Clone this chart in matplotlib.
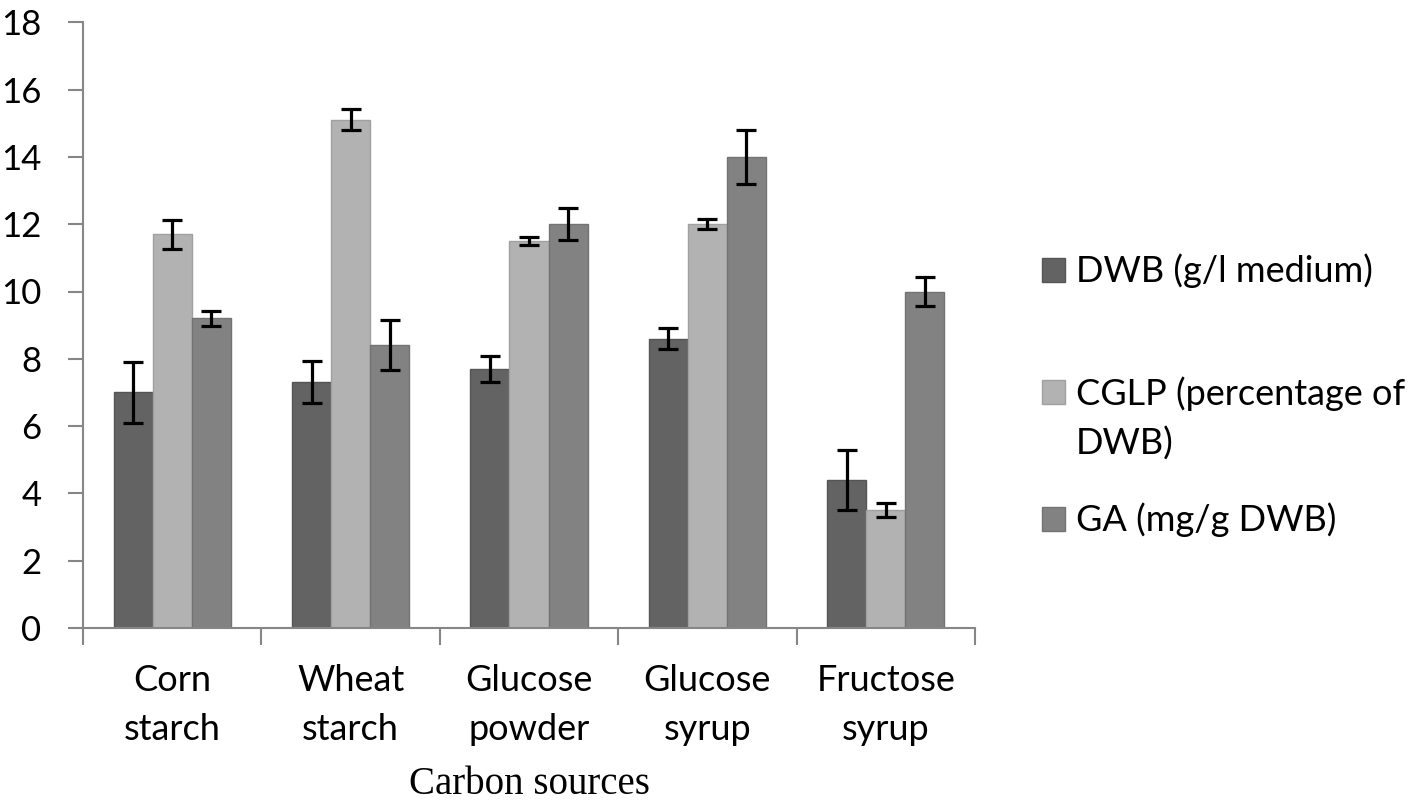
import matplotlib
matplotlib.use("Agg")
import matplotlib.pyplot as plt
from matplotlib.patches import Patch
import numpy as np

categories = ["Corn\nstarch", "Wheat\nstarch", "Glucose\npowder", "Glucose\nsyrup", "Fructose\nsyrup"]
series_names = ["DWB (g/l medium)", "CGLP (percentage of\nDWB)", "GA (mg/g DWB)"]
dwb = [7.0, 7.3, 7.7, 8.6, 4.4]
dwb_err = [0.9, 0.62, 0.39, 0.32, 0.89]
cglp = [11.7, 15.1, 11.5, 12.0, 3.5]
cglp_err = [0.43, 0.31, 0.12, 0.14, 0.21]
ga = [9.2, 8.4, 12.0, 14.0, 10.0]
ga_err = [0.22, 0.74, 0.47, 0.8, 0.42]
yticks = [0, 2, 4, 6, 8, 10, 12, 14, 16, 18]

colors = ["#636363", "#b2b2b2", "#828282"]
edge = ["#555555", "#a0a0a0", "#737373"]

plt.rcParams['font.family'] = ['Lato', 'DejaVu Sans']

fig = plt.figure(figsize=(14.18, 8.09), dpi=100)
ax = fig.add_axes([83/1418, 1 - 628/809, (975-83)/1418, (628-22.3)/809])

x = np.arange(len(categories))
w = 0.219
handles = []
for i, (vals, errs) in enumerate([(dwb, dwb_err), (cglp, cglp_err), (ga, ga_err)]):
    b = ax.bar(x + (i - 1) * w, vals, width=w, color=colors[i], edgecolor=edge[i],
               linewidth=1.0, label=series_names[i], zorder=2)
    ax.errorbar(x + (i - 1) * w, vals, yerr=errs, fmt='none', ecolor='black',
                elinewidth=2.3, capsize=7, capthick=2.3, zorder=3)
    handles.append(b)

ax.set_xlim(-0.5, len(categories) - 0.5)
ax.set_ylim(0, 18)
ax.set_yticks(yticks)
ax.set_yticklabels([str(t) for t in yticks], fontsize=25)
ax.set_xticks(x)
ax.set_xticklabels(categories, fontsize=26, linespacing=1.6)
ax.set_xticks(np.arange(-0.5, len(categories), 1.0), minor=True)
ax.tick_params(axis='x', which='major', length=0, pad=26)
ax.tick_params(axis='x', which='minor', length=12, width=1.5, color='#868686')
ax.tick_params(axis='y', length=11, width=1.5, color='#868686', pad=19)

for s in ['top', 'right']:
    ax.spines[s].set_visible(False)
for s in ['left', 'bottom']:
    ax.spines[s].set_color('#868686')
    ax.spines[s].set_linewidth(1.5)

ax.set_xlabel("Carbon sources", family='Liberation Serif', fontsize=28)
ax.xaxis.set_label_coords(0.5, -0.228)

# legend: three blocks so that the CGLP swatch sits on its first text line
fs = 26
common = dict(loc='center left', frameon=False, fontsize=fs, handlelength=0.64,
              handleheight=0.64, handletextpad=0.3, borderpad=0, borderaxespad=0)
lx = 1042 / 1418
leg1 = fig.legend(handles=[handles[0]], labels=[series_names[0]],
                  bbox_to_anchor=(lx, 1 - 271/809), **common)
cglp_lines = series_names[1].split("\n")
blank = Patch(facecolor='none', edgecolor='none')
leg2 = fig.legend(handles=[handles[1], blank], labels=cglp_lines, labelspacing=0.45,
                  bbox_to_anchor=(lx, 1 - 418.5/809), **common)
leg3 = fig.legend(handles=[handles[2]], labels=[series_names[2]],
                  bbox_to_anchor=(lx, 1 - 520/809), **common)

fig.savefig("out.png", dpi=100)
